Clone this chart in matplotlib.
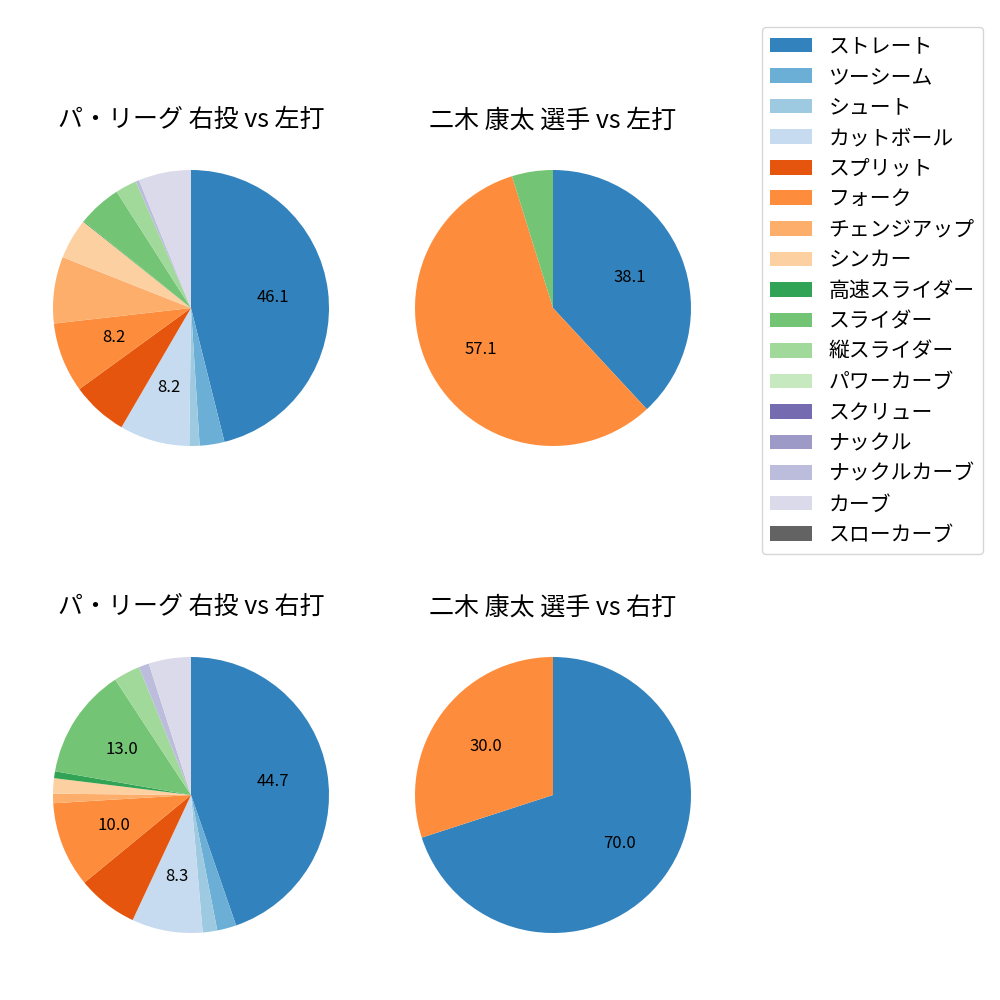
import numpy as np
import matplotlib
matplotlib.use("Agg")
import matplotlib.pyplot as plt
from matplotlib.patches import Patch

plt.rcParams["font.family"] = ["Noto Sans CJK JP", "DejaVu Sans"]

pitch_types = [
    "ストレート", "ツーシーム", "シュート", "カットボール", "スプリット",
    "フォーク", "チェンジアップ", "シンカー", "高速スライダー", "スライダー",
    "縦スライダー", "パワーカーブ", "スクリュー", "ナックル", "ナックルカーブ",
    "カーブ", "スローカーブ",
]

# percentages per pitch type, same order as pitch_types
league_vs_left = [46.1, 2.9, 1.2, 8.2, 6.6, 8.2, 7.8, 4.75, 0.1, 5.1,
                  2.5, 0.0, 0.0, 0.0, 0.4, 6.15, 0.0]
player_vs_left = [38.1, 0, 0, 0, 0, 57.1, 0, 0, 0, 4.8,
                  0, 0, 0, 0, 0, 0, 0]
league_vs_right = [44.7, 2.25, 1.7, 8.3, 7.1, 10.0, 1.1, 1.8, 0.8, 13.0,
                   3.1, 0.0, 0.0, 0.0, 1.2, 4.95, 0.0]
player_vs_right = [70.0, 0, 0, 0, 0, 30.0, 0, 0, 0, 0,
                   0, 0, 0, 0, 0, 0, 0]

titles = [
    "パ・リーグ 右投 vs 左打",
    "二木 康太 選手 vs 左打",
    "パ・リーグ 右投 vs 右打",
    "二木 康太 選手 vs 右打",
]

colors = plt.get_cmap("tab20c").colors[: len(pitch_types)]


def autopct(p):
    return f"{p:.1f}" if p >= 8 else ""


fig = plt.figure(figsize=(10, 10), dpi=100)

# pie centers in pixels (x, y from top)
centers = [(191, 308), (553, 308), (191, 795), (553, 795)]
size = 345
datasets = [league_vs_left, player_vs_left, league_vs_right, player_vs_right]

for (cx, cy), vals, title in zip(centers, datasets, titles):
    ax = fig.add_axes([
        (cx - size / 2) / 1000,
        (1000 - cy - size / 2) / 1000,
        size / 1000,
        size / 1000,
    ])
    vals = np.array(vals, dtype=float)
    mask = vals > 0
    ax.pie(
        vals[mask],
        colors=[c for c, m in zip(colors, mask) if m],
        startangle=90,
        counterclock=False,
        autopct=autopct,
        textprops={"fontsize": 12},
    )
    ax.set_title(title, fontsize=18)

handles = [Patch(facecolor=c, label=l) for c, l in zip(colors, pitch_types)]
fig.legend(
    handles=handles,
    loc="upper right",
    bbox_to_anchor=(0.983, 0.973),
    borderaxespad=0,
    fontsize=15,
    labelspacing=0.41,
)

fig.savefig("out.png", dpi=100)
